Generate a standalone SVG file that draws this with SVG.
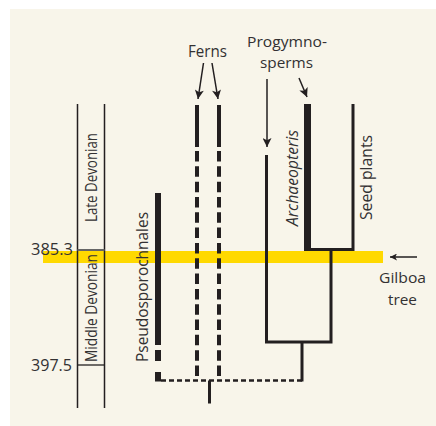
<svg xmlns="http://www.w3.org/2000/svg" width="436" height="426" viewBox="0 0 436 426">
  <style>
    text { font-family: "Open Sans", "Liberation Sans", sans-serif; font-size: 16px; fill: #333132; }
    .two { font-size: 15px; }
    .ln { stroke: #231f20; fill: none; }
    .thin { stroke-width: 1.5; }
    .med { stroke-width: 3; }
    .fern { stroke-width: 4; }
    .thick { stroke-width: 6; }
    .arr { stroke: #231f20; stroke-width: 1.5; fill: none; marker-end: url(#ah); }
  </style>
  <defs>
    <marker id="ah" viewBox="0 0 10 10" refX="10" refY="5" markerWidth="11" markerHeight="9" orient="auto" markerUnits="userSpaceOnUse">
      <path d="M0,0 L10,5 L0,10 L2.5,5 Z" fill="#231f20"/>
    </marker>
    <marker id="ahs" viewBox="0 0 10 10" refX="10" refY="5" markerWidth="9" markerHeight="7" orient="auto" markerUnits="userSpaceOnUse">
      <path d="M0,0 L10,5 L0,10 L2.5,5 Z" fill="#231f20"/>
    </marker>
  </defs>
  <rect x="0" y="0" width="436" height="426" fill="#ffffff"/>
  <rect x="10" y="9" width="426" height="417" fill="#f8f5ea"/>
  <rect id="gilboa-band" x="43" y="251" width="340" height="12" fill="#ffd900"/>

  <g id="time-scale">
    <line class="ln thin" x1="77.5" y1="104" x2="77.5" y2="408"/>
    <line class="ln thin" x1="104.5" y1="104" x2="104.5" y2="408"/>
    <line x1="77.5" y1="250" x2="104.5" y2="250" stroke="#666" stroke-width="2"/>
    <line class="ln" x1="77.5" y1="365" x2="104.5" y2="365" stroke-width="1.3"/>
    <text x="31" y="255" textLength="42" lengthAdjust="spacingAndGlyphs" style="font-size:17px">385.3</text>
    <text x="31" y="371" textLength="41" lengthAdjust="spacingAndGlyphs" style="font-size:17px">397.5</text>
    <text transform="translate(97,222) rotate(-90)" textLength="89" lengthAdjust="spacingAndGlyphs">Late Devonian</text>
    <text transform="translate(97,362) rotate(-90)" textLength="108" lengthAdjust="spacingAndGlyphs">Middle Devonian</text>
  </g>

  <g id="pseudosporochnales">
    <line class="ln thick" x1="158" y1="193" x2="158" y2="345"/>
    <line class="ln thick" x1="158" y1="350" x2="158" y2="361"/>
    <line class="ln thick" x1="158" y1="372" x2="158" y2="381.5"/>
    <text transform="translate(148,362) rotate(-90)" textLength="150" lengthAdjust="spacingAndGlyphs">Pseudosporochnales</text>
  </g>

  <g id="ferns">
    <line class="ln fern" x1="197" y1="105" x2="197" y2="147"/>
    <line class="ln fern" x1="219" y1="105" x2="219" y2="147"/>
    <line class="ln fern" x1="197" y1="151" x2="197" y2="376" stroke-dasharray="10.5 4.82"/>
    <line class="ln fern" x1="219" y1="151" x2="219" y2="376" stroke-dasharray="10.5 4.82"/>
    <text x="188" y="57" textLength="39" lengthAdjust="spacingAndGlyphs">Ferns</text>
  </g>

  <g id="progymnosperms">
    <text class="two" x="247" y="47" textLength="80" lengthAdjust="spacingAndGlyphs">Progymno-</text>
    <text class="two" x="260" y="68" textLength="53" lengthAdjust="spacingAndGlyphs">sperms</text>
    <line class="ln med" x1="266.5" y1="155" x2="266.5" y2="342"/>
  </g>

  <g id="archaeopteris">
    <line class="ln" x1="307.5" y1="104" x2="307.5" y2="251" stroke-width="7"/>
    <text transform="translate(298,226) rotate(-90)" font-style="italic" textLength="96" lengthAdjust="spacingAndGlyphs">Archaeopteris</text>
  </g>

  <g id="seed-plants">
    <line class="ln med" x1="353" y1="104" x2="353" y2="251"/>
    <text transform="translate(372,220) rotate(-90)" textLength="85" lengthAdjust="spacingAndGlyphs">Seed plants</text>
  </g>

  <g id="gilboa-tree">
    <text class="two" x="379" y="283" textLength="47" lengthAdjust="spacingAndGlyphs">Gilboa</text>
    <text class="two" x="388" y="305" textLength="29" lengthAdjust="spacingAndGlyphs">tree</text>
  </g>

  <g id="connectors">
    <polyline class="ln med" points="307.5,249.5 353,249.5"/>
    <polyline class="ln med" points="331,249.5 331,342 265,342"/>
    <line class="ln med" x1="302" y1="342" x2="302" y2="381.5"/>
    <line class="ln" x1="161" y1="380.5" x2="303.5" y2="380.5" stroke-width="2.5" stroke-dasharray="5 3"/>
    <line class="ln med" x1="209.5" y1="380.5" x2="209.5" y2="403.5"/>
    <line class="arr" x1="203.5" y1="63" x2="198" y2="99"/>
    <line class="arr" x1="212" y1="63" x2="218" y2="99"/>
    <line class="arr" x1="267" y1="79" x2="267" y2="147"/>
    <line class="arr" x1="299" y1="78" x2="307" y2="97"/>
    <line x1="417" y1="257" x2="390" y2="257" stroke="#231f20" stroke-width="1.5" marker-end="url(#ahs)"/>
  </g>
</svg>
